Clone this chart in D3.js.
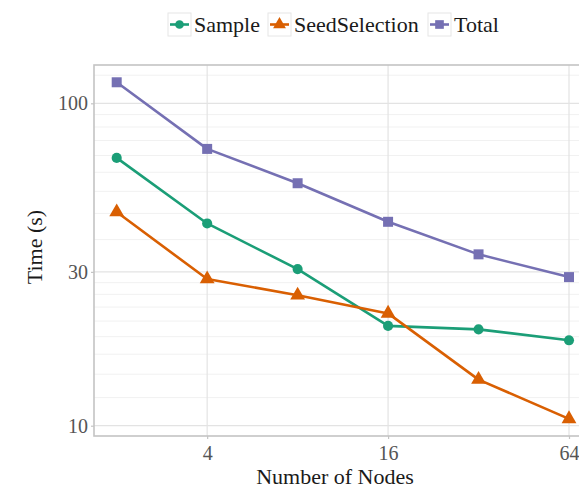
<!DOCTYPE html>
<html>
<head>
<meta charset="utf-8">
<script src="https://cdn.jsdelivr.net/npm/d3@7"></script>
<style>
  html, body { margin: 0; padding: 0; background: #fff; }
</style>
</head>
<body>
<svg id="chart" width="579" height="489"></svg>
<script>
// Run time per phase against cluster size (log–log)
const nodes = [2, 4, 8, 16, 32, 64];
const sampleTime = [67.7, 42.4, 30.6, 20.4, 19.9, 18.4];
const seedSelectionTime = [46.0, 28.5, 25.4, 22.3, 13.9, 10.5];
const totalTime = [116.2, 72.2, 56.5, 42.9, 34.0, 28.9];

const seriesNames = ["Sample", "SeedSelection", "Total"];
const xTicks = [4, 16, 64];
const yTicks = [10, 30, 100];

const FONT = '"Liberation Serif"';
const colors = { Sample: "#1B9E77", SeedSelection: "#D95F02", Total: "#7570B3" };
const shapes = { Sample: d3.symbolCircle, SeedSelection: d3.symbolTriangle, Total: d3.symbolSquare };
const shapeSize = { Sample: 80, SeedSelection: 95, Total: 100 };
// left edge of each legend key box
const legendKeyX = [168, 268, 428];

const series = [
  { name: "Sample", values: sampleTime },
  { name: "SeedSelection", values: seedSelectionTime },
  { name: "Total", values: totalTime }
];

const svg = d3.select("#chart");

// scales: base-2 log on x, base-10 log on y
const x = d3.scaleLog().base(2).domain([2, 64]).range([116.7, 569]);
const y = d3.scaleLog().domain([10, 100]).range([425.7, 103.3]);

const pad = 22.7;
const panel = { left: x.range()[0] - pad, right: x.range()[1] + pad, top: 65, bottom: 436 };

// minor grid: evenly spaced values between successive major breaks
const majorsForMinor = [10, 30, 100, 300];
const yMinor = [];
for (let i = 0; i < majorsForMinor.length - 1; i++) {
  const a = majorsForMinor[i], b = majorsForMinor[i + 1];
  for (let k = 1; k <= 8; k++) {
    const v = a + k * (b - a) / 9;
    if (y(v) > panel.top) yMinor.push(v);
  }
}

const grid = svg.append("g");
grid.selectAll("line.minor").data(yMinor).join("line")
  .attr("x1", panel.left).attr("x2", panel.right)
  .attr("y1", d => y(d)).attr("y2", d => y(d))
  .attr("stroke", "#f1f1f1").attr("stroke-width", 1);
grid.selectAll("line.ymajor").data(yTicks).join("line")
  .attr("x1", panel.left).attr("x2", panel.right)
  .attr("y1", d => y(d)).attr("y2", d => y(d))
  .attr("stroke", "#e3e3e3").attr("stroke-width", 1.2);
grid.selectAll("line.xmajor").data(xTicks).join("line")
  .attr("x1", d => x(d)).attr("x2", d => x(d))
  .attr("y1", panel.top).attr("y2", panel.bottom)
  .attr("stroke", "#e3e3e3").attr("stroke-width", 1.2);

// panel border
svg.append("rect")
  .attr("x", panel.left).attr("y", panel.top)
  .attr("width", panel.right - panel.left).attr("height", panel.bottom - panel.top)
  .attr("fill", "none").attr("stroke", "#c4c4c4").attr("stroke-width", 1.6);

// axes
const xAxis = d3.axisBottom(x).tickValues(xTicks).tickFormat(d3.format("d")).tickSize(3).tickPadding(4);
const yAxis = d3.axisLeft(y).tickValues(yTicks).tickFormat(d3.format("d")).tickSize(3).tickPadding(3);

const gx = svg.append("g").attr("transform", `translate(0,${panel.bottom})`).call(xAxis);
const gy = svg.append("g").attr("transform", `translate(${panel.left},0)`).call(yAxis);
[gx, gy].forEach(g => {
  g.attr("font-family", null).attr("font-size", null);
  g.select(".domain").remove();
  g.selectAll(".tick line").attr("stroke", "#c4c4c4").attr("stroke-width", 1.2);
  g.selectAll(".tick text").attr("fill", "#555")
    .attr("font-size", 20).style("font-family", FONT);
});
gx.selectAll(".tick text").attr("dy", "0.85em");

// axis titles
svg.append("text")
  .attr("x", 335).attr("y", 484)
  .attr("text-anchor", "middle").attr("fill", "#1a1a1a")
  .attr("font-size", 22).style("font-family", FONT)
  .text("Number of Nodes");
svg.append("text")
  .attr("transform", "translate(42,247) rotate(-90)")
  .attr("text-anchor", "middle").attr("fill", "#1a1a1a")
  .attr("font-size", 22).style("font-family", FONT)
  .text("Time (s)");

// lines and points
const line = d3.line().x((d, i) => x(nodes[i])).y(d => y(d));
const marks = svg.append("g");
series.forEach(s => {
  marks.append("path")
    .datum(s.values)
    .attr("d", line)
    .attr("fill", "none").attr("stroke", colors[s.name])
    .attr("stroke-width", 2.6).attr("stroke-linejoin", "round");
  marks.selectAll(null).data(s.values).join("path")
    .attr("transform", (d, i) => `translate(${x(nodes[i])},${y(d)})`)
    .attr("d", d3.symbol().type(shapes[s.name]).size(shapeSize[s.name]))
    .attr("fill", colors[s.name]);
});

// legend along the top
const legend = svg.append("g");
const keyTop = 13, keySize = 23;
seriesNames.forEach((name, i) => {
  const lx = legendKeyX[i];
  const g = legend.append("g");
  g.append("rect")
    .attr("x", lx).attr("y", keyTop).attr("width", keySize).attr("height", keySize)
    .attr("fill", "#fff").attr("stroke", "#e6e6e6").attr("stroke-width", 1);
  const cy = keyTop + keySize / 2;
  g.append("line")
    .attr("x1", lx + 2).attr("x2", lx + keySize - 2)
    .attr("y1", cy).attr("y2", cy)
    .attr("stroke", colors[name]).attr("stroke-width", 2.6);
  g.append("path")
    .attr("transform", `translate(${lx + keySize / 2},${cy})`)
    .attr("d", d3.symbol().type(shapes[name]).size(shapeSize[name] * 0.75))
    .attr("fill", colors[name]);
  g.append("text")
    .attr("x", lx + keySize + 3).attr("y", 32)
    .attr("fill", "#1a1a1a")
    .attr("font-size", 22).style("font-family", FONT)
    .text(name);
});
</script>
</body>
</html>
